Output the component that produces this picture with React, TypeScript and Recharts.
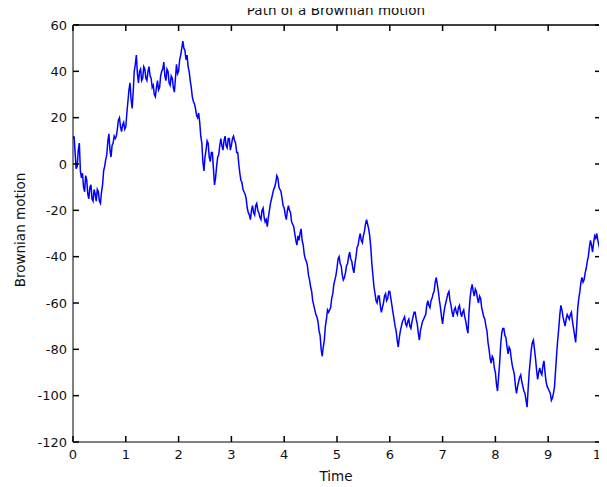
import React from 'react';
import { LineChart, Line, XAxis, YAxis } from 'recharts';

const TIME_STEP = 0.02;
const X_TICKS = [0, 1, 2, 3, 4, 5, 6, 7, 8, 9, 10];
const Y_TICKS = [-120, -100, -80, -60, -40, -20, 0, 20, 40, 60];
const TITLE = 'Path of a Brownian motion';
const X_LABEL = 'Time';
const Y_LABEL = 'Brownian motion';

const VALUES = [
  11, 12, 5, -2, -1, 6, 9, -3, -6, -4, -10, -12, -5, -7, -13, -15, -10, -9, -15, -16,
  -11, -13, -16, -11, -12, -16, -17, -12, -9, -3, -1, 2, 4, 10, 13, 6, 3, 8, 9, 12,
  11, 12, 15, 19, 20, 16, 14, 17, 18, 15, 16, 22, 27, 32, 35, 28, 24, 31, 40, 43,
  47, 39, 35, 40, 41, 36, 37, 42, 41, 37, 36, 40, 42, 38, 37, 33, 34, 30, 29, 33,
  36, 32, 33, 38, 40, 41, 44, 38, 36, 41, 40, 35, 34, 38, 37, 33, 31, 37, 43, 39,
  40, 45, 47, 50, 53, 50, 49, 45, 47, 42, 40, 36, 33, 29, 27, 26, 24, 21, 20, 22,
  18, 12, 9, 1, -3, 3, 6, 10, 9, 3, 1, 5, 5, -2, -9, -6, -1, 3, 4, 8,
  11, 8, 6, 10, 12, 8, 7, 11, 11, 6, 8, 11, 12, 10, 9, 5, 5, 0, -4, -7,
  -8, -11, -12, -13, -15, -19, -21, -22, -24, -20, -18, -21, -22, -18, -17, -20, -21, -23, -24, -20,
  -19, -23, -25, -24, -27, -23, -20, -17, -15, -13, -11, -10, -8, -5, -6, -10, -11, -12, -15, -18,
  -19, -22, -24, -20, -18, -20, -21, -25, -26, -27, -30, -33, -35, -31, -33, -30, -28, -33, -35, -39,
  -41, -42, -44, -48, -50, -53, -55, -59, -61, -63, -65, -66, -68, -72, -74, -80, -83, -79, -76, -70,
  -67, -63, -64, -63, -62, -58, -56, -52, -50, -48, -45, -41, -40, -43, -44, -48, -50, -49, -47, -44,
  -43, -40, -38, -41, -42, -45, -47, -43, -40, -36, -35, -32, -30, -33, -34, -31, -29, -26, -24, -26,
  -28, -31, -36, -43, -48, -53, -56, -59, -60, -57, -57, -61, -64, -62, -60, -57, -56, -59, -58, -55,
  -55, -58, -61, -64, -67, -70, -72, -76, -79, -75, -72, -70, -68, -67, -66, -69, -70, -68, -67, -70,
  -71, -68, -66, -64, -64, -67, -69, -73, -76, -72, -70, -68, -67, -66, -65, -61, -59, -61, -62, -59,
  -58, -56, -55, -51, -49, -52, -55, -59, -62, -66, -69, -65, -62, -60, -58, -56, -55, -59, -61, -64,
  -66, -63, -62, -64, -65, -62, -61, -64, -66, -64, -63, -66, -68, -71, -73, -64, -58, -54, -52, -55,
  -57, -54, -55, -58, -60, -57, -58, -62, -64, -66, -67, -70, -72, -77, -80, -84, -86, -83, -84, -88,
  -90, -95, -98, -92, -86, -78, -73, -71, -71, -74, -75, -79, -82, -79, -80, -84, -87, -89, -91, -96,
  -99, -96, -94, -92, -91, -94, -96, -98, -99, -102, -105, -97, -90, -85, -80, -77, -76, -80, -84, -89,
  -93, -90, -88, -90, -91, -87, -85, -90, -94, -96, -97, -98, -99, -102, -101, -99, -96, -89, -82, -76,
  -71, -65, -61, -63, -66, -68, -70, -67, -65, -66, -67, -65, -64, -68, -71, -74, -77, -70, -62, -58,
  -55, -51, -49, -51, -50, -47, -45, -42, -40, -36, -33, -35, -38, -34, -31, -32, -30, -33, -35, -37,
  -39,
];

const data = VALUES.map((v, i) => ({ t: +(i * TIME_STEP).toFixed(2), v }));

const W = 607;
const H = 487;
const MARGIN = { top: 25, right: 6, bottom: 15, left: 0 };
const Y_AXIS_W = 73;
const X_AXIS_H = 30;
const PLOT_RIGHT = W - MARGIN.right;
const PLOT_TOP = MARGIN.top;
const TICK_LEN = 6;
const X_MAX = X_TICKS[X_TICKS.length - 1];
const Y_MAX = Y_TICKS[Y_TICKS.length - 1];

const FONT = '"DejaVu Sans", sans-serif';
const TEXT_COLOR = '#111';
const AXIS = '#000';
const AXIS_W = 1.5;

function XTick(props: any) {
  const { x, y, payload } = props;
  return (
    <g className="x-tick">
      <path d={`M${x},${y}V${y - TICK_LEN}`} stroke={AXIS} strokeWidth={AXIS_W} fill="none" />
      <path d={`M${x},${PLOT_TOP}V${PLOT_TOP + TICK_LEN}`} stroke={AXIS} strokeWidth={AXIS_W} fill="none" />
      {payload.value === X_MAX && (
        <path d={`M${x},${PLOT_TOP}V${y}`} stroke={AXIS} strokeWidth={AXIS_W} fill="none" />
      )}
      <text x={x} y={y + 8} dy="0.71em" textAnchor="middle" fontFamily={FONT} fontSize={13} fill={TEXT_COLOR} stroke="none">
        {payload.value}
      </text>
    </g>
  );
}

function YTick(props: any) {
  const { x, y, payload } = props;
  return (
    <g className="y-tick">
      <path d={`M${x},${y}H${x + TICK_LEN}`} stroke={AXIS} strokeWidth={AXIS_W} fill="none" />
      <path d={`M${PLOT_RIGHT},${y}H${PLOT_RIGHT - TICK_LEN}`} stroke={AXIS} strokeWidth={AXIS_W} fill="none" />
      {payload.value === Y_MAX && (
        <path d={`M${x},${y}H${PLOT_RIGHT}`} stroke={AXIS} strokeWidth={AXIS_W} fill="none" />
      )}
      <text x={x - 6} y={y} dy="0.355em" textAnchor="end" fontFamily={FONT} fontSize={13} fill={TEXT_COLOR} stroke="none">
        {payload.value}
      </text>
    </g>
  );
}

export default function App() {
  return (
    <div style={{ position: 'relative', width: W, height: H, background: '#fff', marginLeft: -8, marginTop: -8 }}>
      <LineChart width={W} height={H} data={data} margin={MARGIN}>
        <XAxis
          dataKey="t"
          type="number"
          domain={[0, 10]}
          ticks={X_TICKS}
          allowDataOverflow
          height={X_AXIS_H}
          tickSize={0}
          tickMargin={0}
          tickLine={false}
          axisLine={{ stroke: AXIS, strokeWidth: 1 }}
          tick={(p: any) => <XTick {...p} />}
          interval={0}
        />
        <YAxis
          type="number"
          domain={[-120, 60]}
          ticks={Y_TICKS}
          allowDataOverflow
          width={Y_AXIS_W}
          tickSize={0}
          tickMargin={0}
          tickLine={false}
          axisLine={{ stroke: AXIS, strokeWidth: 1 }}
          tick={(p: any) => <YTick {...p} />}
          interval={0}
        />
        <Line dataKey="v" type="linear" stroke="#0000ff" strokeWidth={1.5} dot={false} isAnimationActive={false} />
      </LineChart>
      <div
        style={{
          position: 'absolute', left: 0, width: 672, top: 2, textAlign: 'center', zIndex: 10,
          fontFamily: FONT, fontSize: 13.5, lineHeight: '16px', color: TEXT_COLOR, whiteSpace: 'nowrap',
        }}
      >
        {TITLE}
      </div>
      <div
        style={{
          position: 'absolute', left: 0, width: 672, top: 468, textAlign: 'center', zIndex: 10,
          fontFamily: FONT, fontSize: 13.5, lineHeight: '16px', color: TEXT_COLOR, whiteSpace: 'nowrap',
        }}
      >
        {X_LABEL}
      </div>
      <div style={{ position: 'absolute', left: 20, top: 230, width: 0, height: 0, zIndex: 10 }}>
        <div
          style={{
            position: 'absolute', left: -100, top: -8, width: 200, textAlign: 'center',
            transform: 'rotate(-90deg)', fontFamily: FONT, fontSize: 13.5, color: TEXT_COLOR,
            whiteSpace: 'nowrap', lineHeight: '16px',
          }}
        >
          {Y_LABEL}
        </div>
      </div>
    </div>
  );
}
